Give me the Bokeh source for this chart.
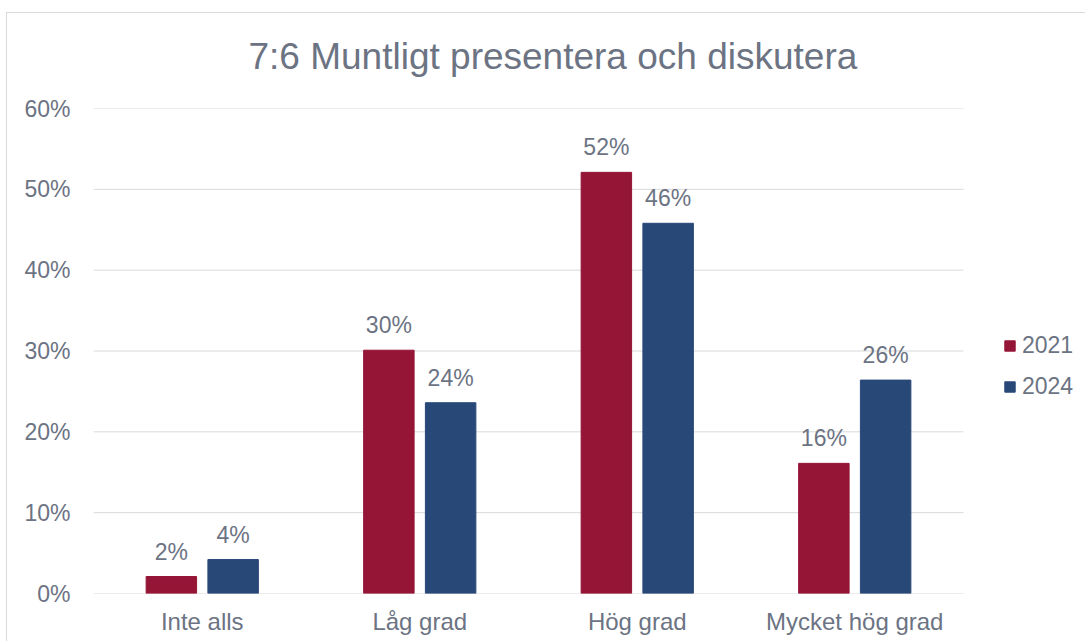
from bokeh.plotting import figure
from bokeh.models import ColumnDataSource, Legend, LegendItem, FixedTicker, Range1d, Title
from bokeh.transform import dodge
from bokeh.core.properties import value
from bokeh.embed import file_html
from bokeh.resources import INLINE

categories = ["Inte alls", "Låg grad", "Hög grad", "Mycket hög grad"]
years = ["2021", "2024"]
values_2021 = [2.1, 30.1, 52.1, 16.1]
values_2024 = [4.2, 23.6, 45.8, 26.4]
labels_2021 = ["2%", "30%", "52%", "16%"]
labels_2024 = ["4%", "24%", "46%", "26%"]
y_ticks = [0, 10, 20, 30, 40, 50, 60]
y_tick_labels = ["0%", "10%", "20%", "30%", "40%", "50%", "60%"]
title_text = "7:6 Muntligt presentera och diskutera"

COL_2021 = "#951537"
COL_2024 = "#284878"
TXT = "#6C7383"
GRID = "#D9D9D9"
FONT = "Liberation Sans"

idx = list(range(len(categories)))
src = ColumnDataSource(dict(idx=idx, v21=values_2021, v24=values_2024,
                            l21=labels_2021, l24=labels_2024))

# frame: 870 px for the 4 categories, extra room on the right for the legend
cat_px = 870 / len(categories)
frame_px = 993
x_end = -0.5 + frame_px / cat_px

p = figure(x_range=Range1d(-0.5, x_end), y_range=(0, 60), width=1079, height=629,
           output_backend="svg", toolbar_location=None,
           min_border_left=86, min_border_right=0, min_border_top=95, min_border_bottom=49)
p.margin = (12, 0, 0, 6)
p.styles = {"border-top": "1px solid #D9D9D9", "border-left": "1px solid #D9D9D9"}

p.title.text = title_text
p.title.align = "left"
p.title.offset = 155
p.title.standoff = 10
p.title.text_font = FONT
p.title.text_font_size = "37px"
p.title.text_font_style = "normal"
p.title.text_color = TXT
p.add_layout(Title(text=" ", text_font_size="20px", standoff=3), "above")

# horizontal gridlines limited to the category area
p.segment(x0=[-0.5] * len(y_ticks), x1=[len(categories) - 0.5] * len(y_ticks),
          y0=y_ticks, y1=y_ticks, line_color=GRID, line_width=1)

r21 = p.vbar(x=dodge("idx", -0.142), top="v21", width=0.232,
             source=src, fill_color=COL_2021, line_color=COL_2021)
r24 = p.vbar(x=dodge("idx", 0.142), top="v24", width=0.232,
             source=src, fill_color=COL_2024, line_color=COL_2024)

for col, off, ycol in (("l21", -0.142, "v21"), ("l24", 0.142, "v24")):
    p.text(x=dodge("idx", off), y=ycol, text=col, source=src,
           text_align="center", text_baseline="bottom", y_offset=-12,
           text_font=value(FONT), text_font_size="23px", text_color=TXT)

p.yaxis.ticker = FixedTicker(ticks=y_ticks)
p.yaxis.major_label_overrides = {t: l for t, l in zip(y_ticks, y_tick_labels)}
p.xaxis.ticker = FixedTicker(ticks=idx)
p.xaxis.major_label_overrides = {i: c for i, c in zip(idx, categories)}
for ax in (p.xaxis, p.yaxis):
    ax.major_label_text_font = FONT
    ax.major_label_text_font_size = "23px"
    ax.major_label_text_color = TXT
    ax.major_tick_line_color = None
    ax.minor_tick_line_color = None
    ax.major_tick_out = 0
    ax.major_tick_in = 0
    ax.axis_line_color = None
p.xaxis.major_label_text_font_size = "24px"
p.yaxis.major_label_standoff = 23
p.xaxis.major_label_standoff = 14

p.xgrid.grid_line_color = None
p.ygrid.grid_line_color = None
p.outline_line_color = None

legend = Legend(items=[LegendItem(label=years[0], renderers=[r21]),
                       LegendItem(label=years[1], renderers=[r24])],
                location=(910, 193), orientation="vertical",
                glyph_width=13, glyph_height=13, label_standoff=6,
                label_text_font=FONT, label_text_font_size="23px", label_text_color=TXT,
                label_height=23, spacing=14, padding=0, margin=0,
                border_line_color=None, background_fill_alpha=0)
p.add_layout(legend, "center")

open("out.html", "w").write(file_html(p, INLINE))
